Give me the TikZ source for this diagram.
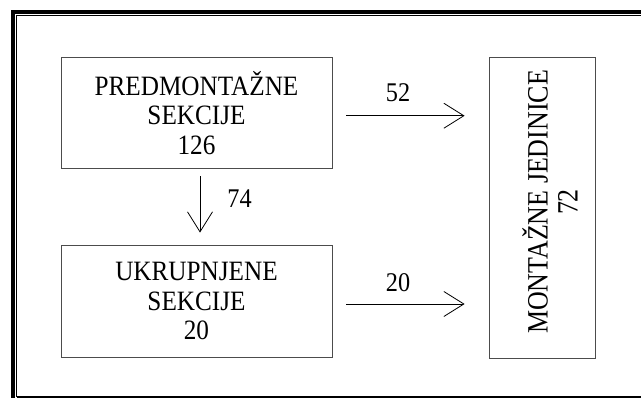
\documentclass[tikz,border=0pt]{standalone}
\usepackage{fontspec}
\setmainfont{Liberation Serif}
\newfontfamily\boxfont[FakeStretch=0.9]{Liberation Serif}
\newfontfamily\sidefont[FakeStretch=0.88]{Liberation Serif}
\usetikzlibrary{arrows.meta}
\begin{document}
\begin{tikzpicture}[x=1pt,y=-1pt, line width=.8pt, inner sep=0pt,
    box/.style={draw=black!70, minimum width=271pt, align=center, font=\boxfont\fontsize{28}{29.5}\selectfont},
    flow/.style={-{Straight Barb[length=20pt,width=25pt]}},
    num/.style={font=\boxfont\fontsize{27}{29.5}\selectfont}]
    \useasboundingbox (0,0) rectangle (641,398);
    % frame
    \draw[line width=4pt] (12.5,420) -- (12.5,12) -- (660,12);
    \draw[line width=1.1pt] (16.5,397) -- (16.5,15.8) -- (660,15.8);
    \draw[line width=1.1pt] (16.5,397) -- (660,397);

    \node[box, minimum height=110.5pt] (pre) at (196.5,112.75) {PREDMONTAŽNE\\SEKCIJE\\126};
    \node[box, minimum height=112pt] (ukr) at (196.5,301) {UKRUPNJENE\\SEKCIJE\\20};
    \node[box, minimum width=106pt, minimum height=300.5pt] (mont) at (542,207.75) {};
    \node[rotate=90, align=center, font=\sidefont\fontsize{29.5}{30}\selectfont] (montt) at (550,202) {MONTAŽNE JEDINICE\\72};

    \draw[flow, shorten <=14pt, shorten >=24pt] ([yshift=-3pt]pre.east) -- ([yshift=-3pt]pre.east -| mont.west)
        node[num, pos=.42, above=14pt] (n52) {52};
    \draw[flow, shorten <=14pt, shorten >=24pt] ([yshift=-3pt]ukr.east) -- ([yshift=-3pt]ukr.east -| mont.west)
        node[num, pos=.42, above=12pt] (n20) {20};
    \draw[flow, shorten <=8pt, shorten >=12pt] ([xshift=3.5pt]pre.south) -- ([xshift=3.5pt]ukr.north)
        node[num, pos=.4, right=27pt] (n74) {74};
\end{tikzpicture}
\end{document}
